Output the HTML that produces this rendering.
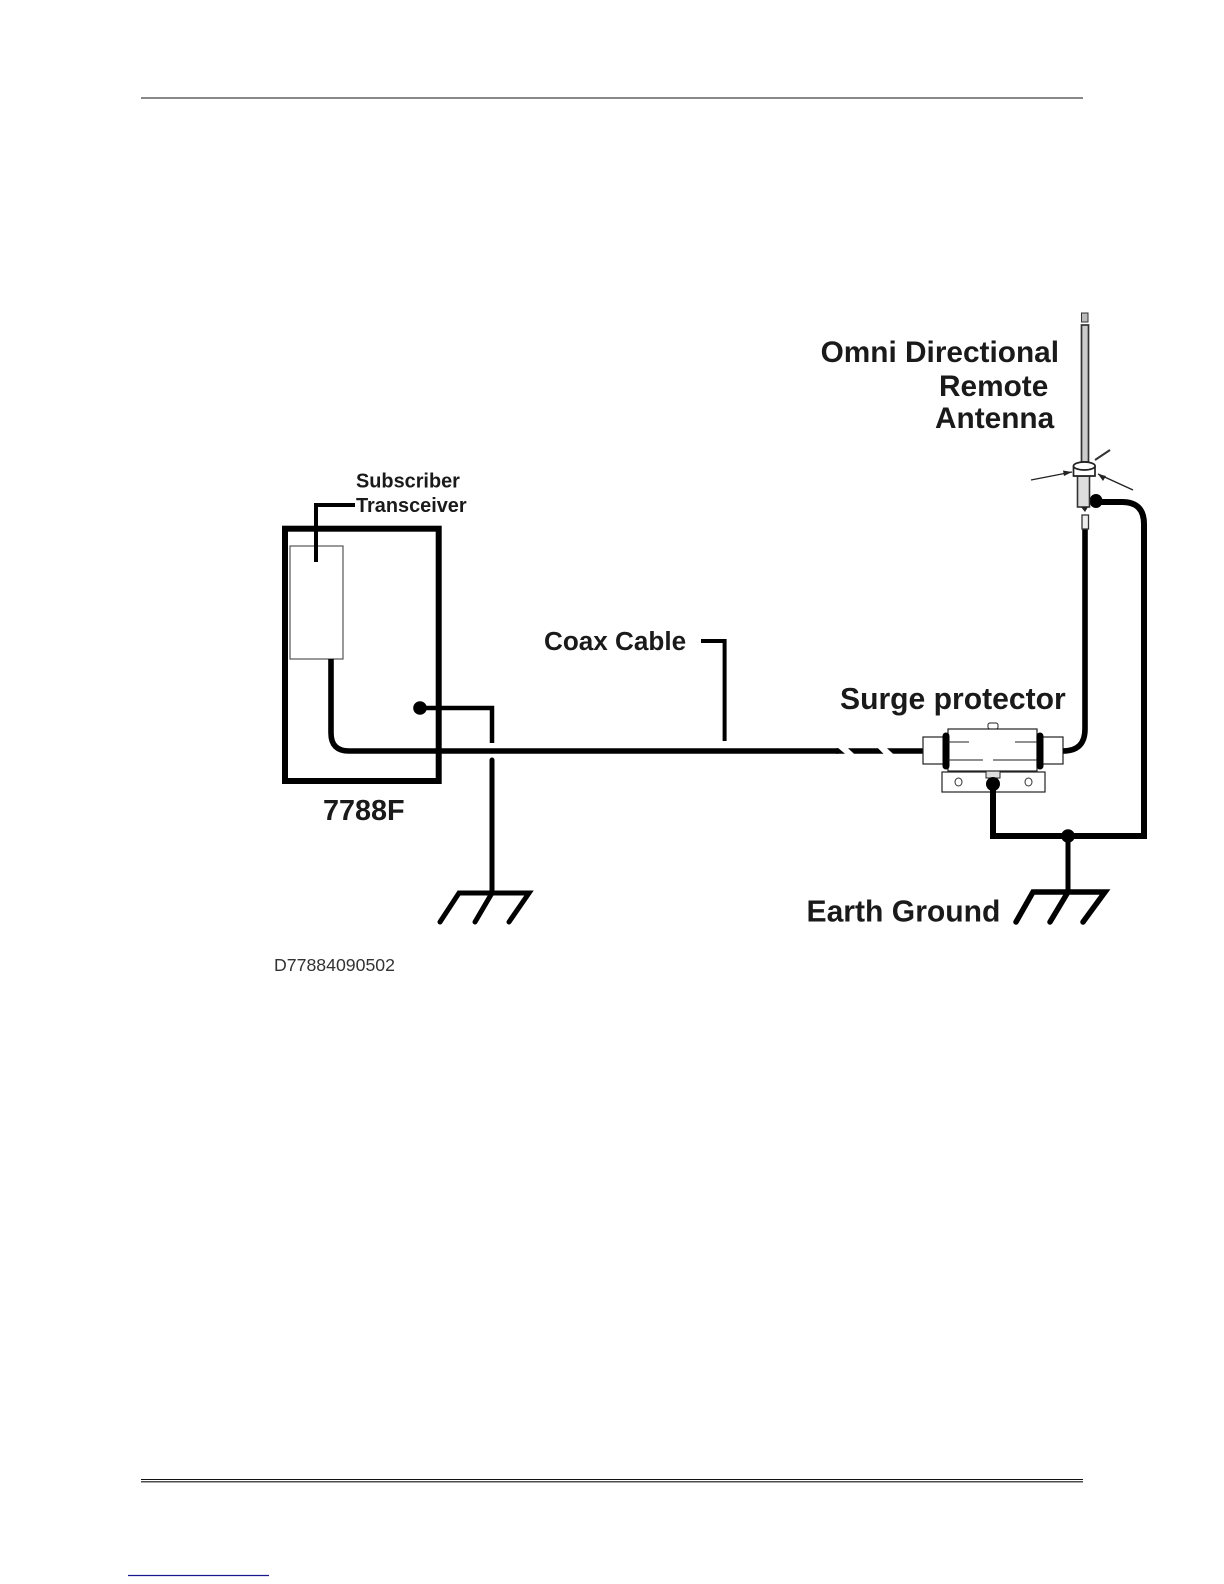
<!DOCTYPE html>
<html><head><meta charset="utf-8"><style>
html,body{margin:0;padding:0;background:#fff}
svg{display:block}
text{font-family:"Liberation Sans",sans-serif;font-weight:bold;fill:#1a1a1a}
</style></head><body>
<svg width="1224" height="1584" viewBox="0 0 1224 1584" xmlns="http://www.w3.org/2000/svg">
<rect width="1224" height="1584" fill="#fff"/>
<!-- page rules -->
<line x1="141" y1="98" x2="1083" y2="98" stroke="#111" stroke-width="1"/>
<line x1="141" y1="1479.5" x2="1083" y2="1479.5" stroke="#111" stroke-width="1.1"/>
<line x1="141" y1="1481.8" x2="1083" y2="1481.8" stroke="#111" stroke-width="1.2"/>
<line x1="128" y1="1575.5" x2="269" y2="1575.5" stroke="#1a1a8c" stroke-width="1.2"/>

<!-- 7788F box -->
<rect x="285" y="528.7" width="153.7" height="252.3" fill="none" stroke="#000" stroke-width="6"/>
<rect x="290" y="546" width="53" height="113" fill="#fff" stroke="#555" stroke-width="1.2"/>
<path d="M355 505H316V562" fill="none" stroke="#000" stroke-width="4"/>
<!-- coax -->
<path d="M331 659V733Q331 751 349 751H838" fill="none" stroke="#000" stroke-width="5.6"/>
<path d="M836 748.2H838.5L845 753.8H836Z" fill="#000"/>
<path d="M848 748.2H878L883.5 753.8H854Z" fill="#000"/>
<path d="M887 748.2H923V753.8H893Z" fill="#000"/>
<!-- ground left -->
<circle cx="420" cy="708" r="6.8" fill="#000"/>
<path d="M420 708H492V743" fill="none" stroke="#000" stroke-width="4.5"/>
<line x1="492" y1="760" x2="492" y2="893" stroke="#000" stroke-width="5" stroke-linecap="round"/>
<path d="M440 922L459 893H529L509 922M475 922L492 893" fill="none" stroke="#000" stroke-width="5" stroke-linecap="round"/>
<!-- coax label leader -->
<path d="M701 641H724.6V741" fill="none" stroke="#000" stroke-width="4"/>

<!-- surge protector -->
<rect x="923" y="737" width="22" height="27" fill="#fff" stroke="#222" stroke-width="1.2"/>
<rect x="1041" y="737" width="22" height="27" fill="#fff" stroke="#222" stroke-width="1.2"/>
<rect x="988" y="723" width="10" height="6" rx="2" fill="#fff" stroke="#222"/>
<rect x="942" y="772" width="103" height="20" fill="#fff" stroke="#222" stroke-width="1.2"/>
<rect x="986" y="770" width="14" height="8" fill="#ddd" stroke="#222"/>
<rect x="948" y="729" width="89" height="42" fill="#fff" stroke="#222" stroke-width="1.2"/>
<path d="M946 736V766M1040 736V766" stroke="#000" stroke-width="7" stroke-linecap="round"/>
<path d="M948 742H969M1015 742H1037M948 760H983M993 760H1037" stroke="#222" stroke-width="1.1"/>
<ellipse cx="958.5" cy="782" rx="3.5" ry="4" fill="#fff" stroke="#333"/>
<ellipse cx="1028.5" cy="782" rx="3.5" ry="4" fill="#fff" stroke="#333"/>
<circle cx="993" cy="784" r="7" fill="#000"/>
<!-- ground right -->
<path d="M993 784V836H1144V524Q1144 502 1122 502H1095" fill="none" stroke="#000" stroke-width="6"/>
<ellipse cx="1096" cy="501" rx="6.5" ry="7" fill="#000"/>
<circle cx="1068" cy="836" r="6.8" fill="#000"/>
<line x1="1068" y1="836" x2="1068" y2="892" stroke="#000" stroke-width="5"/>
<path d="M1016 922L1033 892H1105L1083 922M1050 922L1068 892" fill="none" stroke="#000" stroke-width="5.5" stroke-linecap="round"/>
<!-- antenna feed -->
<path d="M1063 751Q1085 751 1085 729V529" fill="none" stroke="#000" stroke-width="5.6"/>

<!-- antenna -->
<rect x="1081.5" y="313" width="6.5" height="9" fill="#bbb" stroke="#333"/>
<rect x="1081.5" y="325" width="7" height="137" fill="#ccc" stroke="#333" stroke-width="1.7"/>
<rect x="1077.5" y="476" width="12" height="31" fill="#ddd" stroke="#333" stroke-width="1.6"/>
<path d="M1081 507L1085 512L1088 507Z" fill="#222"/>
<rect x="1082" y="515" width="6.5" height="14" fill="#eee" stroke="#333" stroke-width="1.3"/>
<path d="M1073.5 466V476H1095V466" fill="#fff" stroke="#222" stroke-width="1.7"/>
<ellipse cx="1084.3" cy="466" rx="10.8" ry="4" fill="#fff" stroke="#222" stroke-width="1.7"/>
<path d="M1031 480L1072 472" stroke="#222" stroke-width="1.3"/>
<path d="M1072 472L1063 470.5L1064 476Z" fill="#222"/>
<path d="M1110 450L1095 460" stroke="#333" stroke-width="2"/>
<path d="M1133 490L1098 474" stroke="#222" stroke-width="1.4"/>
<path d="M1098 474L1103 481L1106 476Z" fill="#222"/>

<!-- labels -->
<text x="820.6" y="361.8" font-size="29.8">Omni Directional</text>
<text x="939" y="396" font-size="29.8">Remote</text>
<text x="935" y="428" font-size="29.8">Antenna</text>
<text x="356" y="487.5" font-size="19.9">Subscriber</text>
<text x="356" y="512" font-size="19.9">Transceiver</text>
<text x="544" y="650" font-size="26.1">Coax Cable</text>
<text x="840" y="709" font-size="30.1">Surge protector</text>
<text x="323" y="820" font-size="28.8">7788F</text>
<text x="806.5" y="921.7" font-size="30.1">Earth Ground</text>
<text x="274" y="971" font-size="17.7" style="font-weight:normal;fill:#333">D77884090502</text>
</svg>
</body></html>
